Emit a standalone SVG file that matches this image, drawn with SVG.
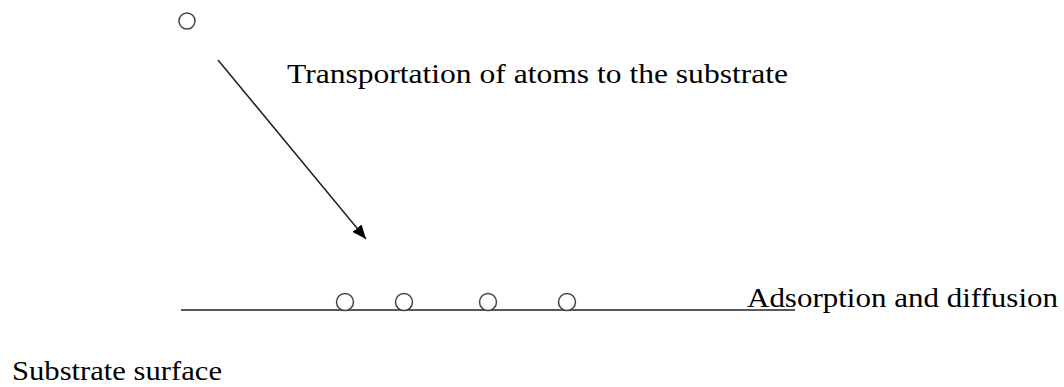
<svg xmlns="http://www.w3.org/2000/svg" width="1064" height="387" viewBox="0 0 1064 387">
<style>
.atom{fill:#fff;stroke:#444;stroke-width:1.5}
.lbl{font-family:"Liberation Serif","Times New Roman",serif;font-size:27px;fill:#000}
.ln{stroke:#222;stroke-width:1.5;fill:none}
</style>
<defs>
<marker id="ah2" viewBox="0 0 12 10" refX="12" refY="5" markerWidth="14" markerHeight="12" orient="auto" markerUnits="userSpaceOnUse">
<path d="M0,0 L12,5 L0,10 z" fill="#000"/>
</marker>
</defs>
<rect width="1064" height="387" fill="#fff"/>
<g id="atom-top"><circle class="atom" cx="187" cy="21" r="8"/></g>
<g id="surface">
<line class="ln" x1="181" y1="310" x2="795" y2="310"/>
</g>
<g id="atom1"><circle class="atom" cx="345" cy="302" r="8.5"/></g>
<g id="atom2"><circle class="atom" cx="404" cy="302" r="8.5"/></g>
<g id="atom3"><circle class="atom" cx="488" cy="302" r="8.5"/></g>
<g id="atom4"><circle class="atom" cx="567" cy="302" r="8.5"/></g>
<g id="connectors">
<line class="ln" x1="218" y1="60" x2="366" y2="239" marker-end="url(#ah2)"/>
</g>
<g id="label-transport"><text class="lbl" x="287" y="83" textLength="501" lengthAdjust="spacingAndGlyphs">Transportation of atoms to the substrate</text></g>
<g id="label-adsorption"><text class="lbl" x="747" y="307" textLength="311" lengthAdjust="spacingAndGlyphs">Adsorption and diffusion</text></g>
<g id="label-surface"><text class="lbl" x="12" y="380" textLength="210" lengthAdjust="spacingAndGlyphs">Substrate surface</text></g>
</svg>
